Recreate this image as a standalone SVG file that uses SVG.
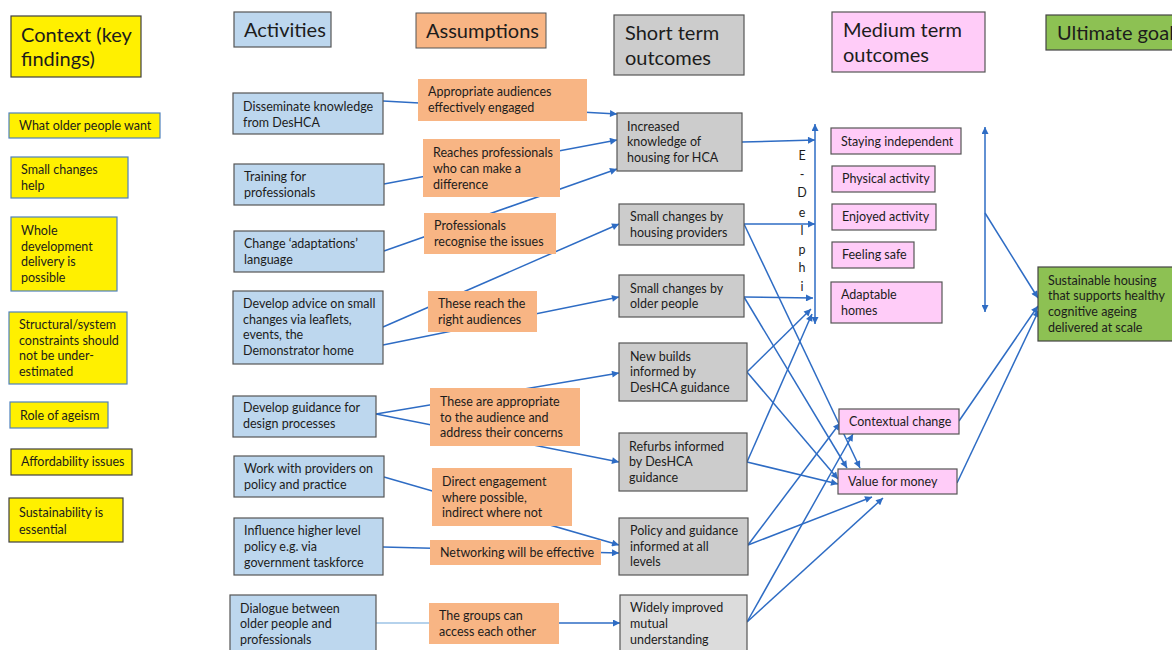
<svg xmlns="http://www.w3.org/2000/svg" width="1172" height="650" viewBox="0 0 1172 650">
<defs>
<marker id="ah" viewBox="0 0 10 10" refX="10" refY="5" markerWidth="10" markerHeight="7" markerUnits="userSpaceOnUse" orient="auto-start-reverse">
<path d="M0,0 L10,5 L0,10 z" fill="#2E6CC4"/>
</marker>
<style>
text{font-family:Lato,"Liberation Sans",sans-serif;fill:#1c1c1c;font-size:12.5px}
.h{font-size:20px}
.ctx{fill:#FFF000;stroke:#4F81BD;stroke-width:1.2}
.ctxd{fill:#FFF000;stroke:#404040;stroke-width:1.2}
.act{fill:#BDD7EE;stroke:#555555;stroke-width:1.2}
.asm{fill:#F8B584}
.st{fill:#CCCCCC;stroke:#555555;stroke-width:1.2}
.st2{fill:#DCDCDC;stroke:#555555;stroke-width:1.2}
.mt{fill:#FFCCF8;stroke:#555555;stroke-width:1.2}
.ug{fill:#8DC153;stroke:#444444;stroke-width:1.2}
.c{stroke:#2E6CC4;stroke-width:1.5;fill:none}
.ca{stroke:#2E6CC4;stroke-width:1.5;fill:none;marker-end:url(#ah)}
.cd{stroke:#2E6CC4;stroke-width:1.5;fill:none;marker-end:url(#ah);marker-start:url(#ah)}
.cl{stroke:#9DC3E6;stroke-width:1.5;fill:none}
</style>
</defs>
<rect width="1172" height="650" fill="#FFFFFF"/>

<g id="connectors">
<path class="ca" d="M383,101 L617,114"/>
<path class="ca" d="M384,184 L617,140"/>
<path class="ca" d="M384,251 L617,169"/>
<path class="ca" d="M383,327 L619,224"/>
<path class="ca" d="M383,345 L619,297"/>
<path class="ca" d="M376,414 L619,373"/>
<path class="ca" d="M376,414 L619,462"/>
<path class="ca" d="M384,477 L619,545"/>
<path class="ca" d="M383,547 L619,553"/>
<path class="cl" d="M376,623 L430,623"/>
<path class="ca" d="M558,623 L620,623"/>
<path class="ca" d="M742,142 L815,140"/>
<path class="ca" d="M744,224 L815,224"/>
<path class="ca" d="M744,224 L860,468"/>
<path class="ca" d="M744,297 L813,298"/>
<path class="ca" d="M744,297 L847,468"/>
<path class="ca" d="M747,372 L811,309"/>
<path class="ca" d="M747,372 L838,479"/>
<path class="ca" d="M747,462 L812,314"/>
<path class="ca" d="M747,462 L838,484"/>
<path class="ca" d="M748,545 L840,423"/>
<path class="ca" d="M748,545 L872,497"/>
<path class="ca" d="M747,622 L853,434"/>
<path class="ca" d="M747,622 L883,498"/>
<path class="cd" d="M815,124 L815,324"/>
<path class="cd" d="M985,127 L985,312"/>
<path class="ca" d="M985,213 L1038,298"/>
<path class="ca" d="M959,421 L1038,306"/>
<path class="ca" d="M957,483 L1039,310"/>
</g>

<g id="edelphi">
<text x="802" y="160" text-anchor="middle" font-size="13">E</text>
<text x="802" y="179" text-anchor="middle" font-size="13">-</text>
<text x="802" y="197" text-anchor="middle" font-size="13">D</text>
<text x="802" y="217" text-anchor="middle" font-size="13">e</text>
<text x="802" y="235" text-anchor="middle" font-size="13">l</text>
<text x="802" y="254" text-anchor="middle" font-size="13">p</text>
<text x="802" y="272" text-anchor="middle" font-size="13">h</text>
<text x="802" y="291" text-anchor="middle" font-size="13">i</text>
</g>

<!-- headers -->
<g id="h-context"><rect class="ctxd" x="11" y="16" width="130" height="61"/><text class="h" x="21" y="42"><tspan x="21" y="42">Context (key</tspan><tspan x="21" y="66">findings)</tspan></text></g>
<g id="h-activities"><rect class="act" x="234" y="12" width="97" height="35"/><text class="h" x="244" y="37">Activities</text></g>
<g id="h-assumptions"><rect class="asm" x="416" y="13" width="130" height="35" stroke="#555" stroke-width="1"/><text class="h" x="426" y="38">Assumptions</text></g>
<g id="h-short"><rect class="st" x="614" y="15" width="130" height="60"/><text class="h"><tspan x="625" y="40">Short term</tspan><tspan x="625" y="65">outcomes</tspan></text></g>
<g id="h-medium"><rect class="mt" x="832" y="12" width="153" height="60"/><text class="h"><tspan x="843" y="37">Medium term</tspan><tspan x="843" y="62">outcomes</tspan></text></g>
<g id="h-ultimate"><rect class="ug" x="1046" y="15" width="130" height="35"/><text class="h" x="1057" y="40">Ultimate goal</text></g>

<!-- context -->
<g id="ctx1"><rect class="ctx" x="9" y="113" width="151" height="25"/><text x="19" y="130">What older people want</text></g>
<g id="ctx2"><rect class="ctx" x="11" y="157" width="117" height="41"/><text><tspan x="21" y="174">Small changes</tspan><tspan x="21" y="190">help</tspan></text></g>
<g id="ctx3"><rect class="ctx" x="11" y="217" width="106" height="74"/><text><tspan x="21" y="235">Whole</tspan><tspan x="21" y="251">development</tspan><tspan x="21" y="266">delivery is</tspan><tspan x="21" y="282">possible</tspan></text></g>
<g id="ctx4"><rect class="ctx" x="9" y="312" width="118" height="72"/><text><tspan x="19" y="329">Structural/system</tspan><tspan x="19" y="345">constraints should</tspan><tspan x="19" y="360">not be under-</tspan><tspan x="19" y="376">estimated</tspan></text></g>
<g id="ctx5"><rect class="ctx" x="10" y="402" width="98" height="26"/><text x="20" y="420">Role of ageism</text></g>
<g id="ctx6"><rect class="ctxd" x="11" y="449" width="121" height="26"/><text x="21" y="466">Affordability issues</text></g>
<g id="ctx7"><rect class="ctxd" x="9" y="498" width="114" height="44"/><text font-size="13.5"><tspan x="19" y="517">Sustainability is</tspan><tspan x="19" y="534">essential</tspan></text></g>

<!-- activities -->
<g id="act1"><rect class="act" x="233" y="93" width="150" height="41"/><text><tspan x="243" y="111">Disseminate knowledge</tspan><tspan x="243" y="127">from DesHCA</tspan></text></g>
<g id="act2"><rect class="act" x="234" y="164" width="150" height="41"/><text><tspan x="244" y="181">Training for</tspan><tspan x="244" y="197">professionals</tspan></text></g>
<g id="act3"><rect class="act" x="234" y="231" width="150" height="41"/><text><tspan x="244" y="248">Change ‘adaptations’</tspan><tspan x="244" y="264">language</tspan></text></g>
<g id="act4"><rect class="act" x="233" y="291" width="150" height="73"/><text><tspan x="243" y="308">Develop advice on small</tspan><tspan x="243" y="324">changes via leaflets,</tspan><tspan x="243" y="339">events, the</tspan><tspan x="243" y="355">Demonstrator home</tspan></text></g>
<g id="act5"><rect class="act" x="233" y="396" width="143" height="41"/><text><tspan x="243" y="412">Develop guidance for</tspan><tspan x="243" y="428">design processes</tspan></text></g>
<g id="act6"><rect class="act" x="234" y="456" width="150" height="41"/><text><tspan x="244" y="473">Work with providers on</tspan><tspan x="244" y="489">policy and practice</tspan></text></g>
<g id="act7"><rect class="act" x="234" y="518" width="149" height="57"/><text><tspan x="244" y="535">Influence higher level</tspan><tspan x="244" y="551">policy e.g. via</tspan><tspan x="244" y="567">government taskforce</tspan></text></g>
<g id="act8"><rect class="act" x="230" y="595" width="146" height="60"/><text><tspan x="240" y="613">Dialogue between</tspan><tspan x="240" y="628">older people and</tspan><tspan x="240" y="644">professionals</tspan></text></g>

<!-- assumptions -->
<g id="asm1"><rect class="asm" x="418" y="79" width="169" height="42"/><text><tspan x="428" y="96">Appropriate audiences</tspan><tspan x="428" y="112">effectively engaged</tspan></text></g>
<g id="asm2"><rect class="asm" x="423" y="139" width="137" height="58"/><text><tspan x="433" y="157">Reaches professionals</tspan><tspan x="433" y="173">who can make a</tspan><tspan x="433" y="189">difference</tspan></text></g>
<g id="asm3"><rect class="asm" x="424" y="213" width="132" height="41"/><text><tspan x="434" y="230">Professionals</tspan><tspan x="434" y="246">recognise the issues</tspan></text></g>
<g id="asm4"><rect class="asm" x="428" y="291" width="109" height="41"/><text><tspan x="438" y="308">These reach the</tspan><tspan x="438" y="324">right audiences</tspan></text></g>
<g id="asm5"><rect class="asm" x="430" y="388" width="150" height="58"/><text><tspan x="440" y="406">These are appropriate</tspan><tspan x="440" y="422">to the audience and</tspan><tspan x="440" y="437">address their concerns</tspan></text></g>
<g id="asm6"><rect class="asm" x="432" y="468" width="140" height="58"/><text><tspan x="442" y="486">Direct engagement</tspan><tspan x="442" y="502">where possible,</tspan><tspan x="442" y="517">indirect where not</tspan></text></g>
<g id="asm7"><rect class="asm" x="430" y="540" width="171" height="25"/><text x="440" y="557">Networking will be effective</text></g>
<g id="asm8"><rect class="asm" x="429" y="603" width="130" height="41"/><text><tspan x="439" y="620">The groups can</tspan><tspan x="439" y="636">access each other</tspan></text></g>

<!-- short term -->
<g id="st1"><rect class="st" x="617" y="113" width="125" height="58"/><text><tspan x="627" y="131">Increased</tspan><tspan x="627" y="146">knowledge of</tspan><tspan x="627" y="162">housing for HCA</tspan></text></g>
<g id="st2"><rect class="st" x="619" y="204" width="125" height="41"/><text><tspan x="630" y="221">Small changes by</tspan><tspan x="630" y="237">housing providers</tspan></text></g>
<g id="st3"><rect class="st" x="619" y="275" width="125" height="42"/><text><tspan x="630" y="293">Small changes by</tspan><tspan x="630" y="308">older people</tspan></text></g>
<g id="st4"><rect class="st" x="619" y="343" width="128" height="58"/><text><tspan x="630" y="361">New builds</tspan><tspan x="630" y="376">informed by</tspan><tspan x="630" y="392">DesHCA guidance</tspan></text></g>
<g id="st5"><rect class="st" x="619" y="433" width="128" height="58"/><text><tspan x="629" y="451">Refurbs informed</tspan><tspan x="629" y="466">by DesHCA</tspan><tspan x="629" y="482">guidance</tspan></text></g>
<g id="st6"><rect class="st" x="619" y="518" width="129" height="57"/><text><tspan x="630" y="535">Policy and guidance</tspan><tspan x="630" y="551">informed at all</tspan><tspan x="630" y="566">levels</tspan></text></g>
<g id="st7"><rect class="st2" x="620" y="595" width="127" height="60"/><text><tspan x="630" y="612">Widely improved</tspan><tspan x="630" y="628">mutual</tspan><tspan x="630" y="644">understanding</tspan></text></g>

<!-- medium term -->
<g id="mt1"><rect class="mt" x="831" y="128" width="130" height="26"/><text x="841" y="146">Staying independent</text></g>
<g id="mt2"><rect class="mt" x="832" y="166" width="103" height="26"/><text x="842" y="183">Physical activity</text></g>
<g id="mt3"><rect class="mt" x="832" y="204" width="104" height="26"/><text x="842" y="221">Enjoyed activity</text></g>
<g id="mt4"><rect class="mt" x="832" y="242" width="82" height="26"/><text x="842" y="259">Feeling safe</text></g>
<g id="mt5"><rect class="mt" x="831" y="282" width="111" height="41"/><text><tspan x="841" y="299">Adaptable</tspan><tspan x="841" y="315">homes</tspan></text></g>
<g id="mt6"><rect class="mt" x="839" y="409" width="120" height="25"/><text x="849" y="426">Contextual change</text></g>
<g id="mt7"><rect class="mt" x="838" y="469" width="119" height="25"/><text x="848" y="486">Value for money</text></g>

<!-- ultimate -->
<g id="goal"><rect class="ug" x="1038" y="267" width="140" height="74"/><text><tspan x="1048" y="285">Sustainable housing</tspan><tspan x="1048" y="300">that supports healthy</tspan><tspan x="1048" y="316">cognitive ageing</tspan><tspan x="1048" y="332">delivered at scale</tspan></text></g>
</svg>
